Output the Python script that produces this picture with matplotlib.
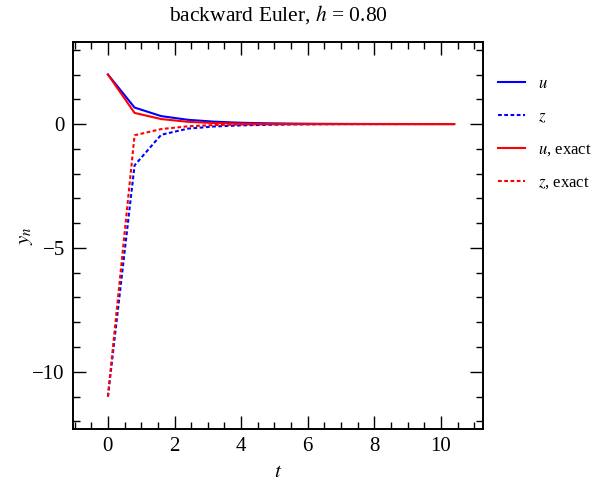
import numpy as np
import matplotlib; matplotlib.use('Agg')
import matplotlib.pyplot as plt
from matplotlib.ticker import MultipleLocator

plt.rcParams['font.family'] = ['Liberation Serif', 'DejaVu Serif']
plt.rcParams['mathtext.fontset'] = 'stix'

# time grid, h = 0.80
t = [0.0, 0.8, 1.6, 2.4, 3.2, 4.0, 4.8, 5.6, 6.4, 7.2, 8.0, 8.8, 9.6, 10.4]

# backward Euler iterates
u_be = [2.0, 0.6667, 0.3210, 0.1728, 0.0954, 0.0529, 0.0294, 0.0163,
        0.0091, 0.0050, 0.0028, 0.0016, 0.0009, 0.0005]
z_be = [-11.0, -1.6667, -0.4321, -0.1852, -0.0968, -0.0531, -0.0294, -0.0163,
        -0.0091, -0.0050, -0.0028, -0.0016, -0.0009, -0.0005]

# exact solution sampled on the grid
u_ex = [2.0, 0.4497, 0.2019, 0.0907, 0.0408, 0.0183, 0.0082, 0.0037,
        0.0017, 0.0007, 0.0003, 0.0002, 0.0001, 0.0000]
z_ex = [-11.0, -0.4527, -0.2019, -0.0907, -0.0408, -0.0183, -0.0082, -0.0037,
        -0.0017, -0.0007, -0.0003, -0.0002, -0.0001, -0.0000]

fig = plt.figure(figsize=(5.94, 4.84), dpi=100)
ax = fig.add_axes([0.1234, 0.1136, 0.690, 0.800])

dots = (0, (1.8, 1.2))
ax.plot(t, u_be, color='#0000ff', lw=1.5, label='$u$')
ax.plot(t, z_be, color='#0000ff', lw=1.5, ls=dots, label='$z$')
ax.plot(t, u_ex, color='#ff0000', lw=1.5, label='$u$, exact')
ax.plot(t, z_ex, color='#ff0000', lw=1.5, ls=dots, label='$z$, exact')

ax.set_xlim(-1.04, 11.27)
ax.set_ylim(-12.31, 3.32)
ax.xaxis.set_major_locator(MultipleLocator(2))
ax.xaxis.set_minor_locator(MultipleLocator(0.5))
ax.yaxis.set_major_locator(MultipleLocator(5))
ax.yaxis.set_minor_locator(MultipleLocator(1))
ax.tick_params(which='both', direction='in', top=True, right=True,
               labelsize=15, width=1.0)
ax.tick_params(which='major', length=9.5, pad=6)
ax.tick_params(which='minor', length=5)
for s in ax.spines.values():
    s.set_linewidth(1.4)

ax.set_xlabel('$t$', fontsize=15, labelpad=5)
ax.set_ylabel('$y_n$', fontsize=15, labelpad=-2)
ax.set_title('backward Euler, $h$ = 0.80', fontsize=15.5, pad=15)

ax.legend(loc='upper left', bbox_to_anchor=(1.0, 0.95), frameon=False,
          fontsize=12, handlelength=1.6, handletextpad=0.8, labelspacing=1.0)

fig.savefig('out.png', dpi=100)
